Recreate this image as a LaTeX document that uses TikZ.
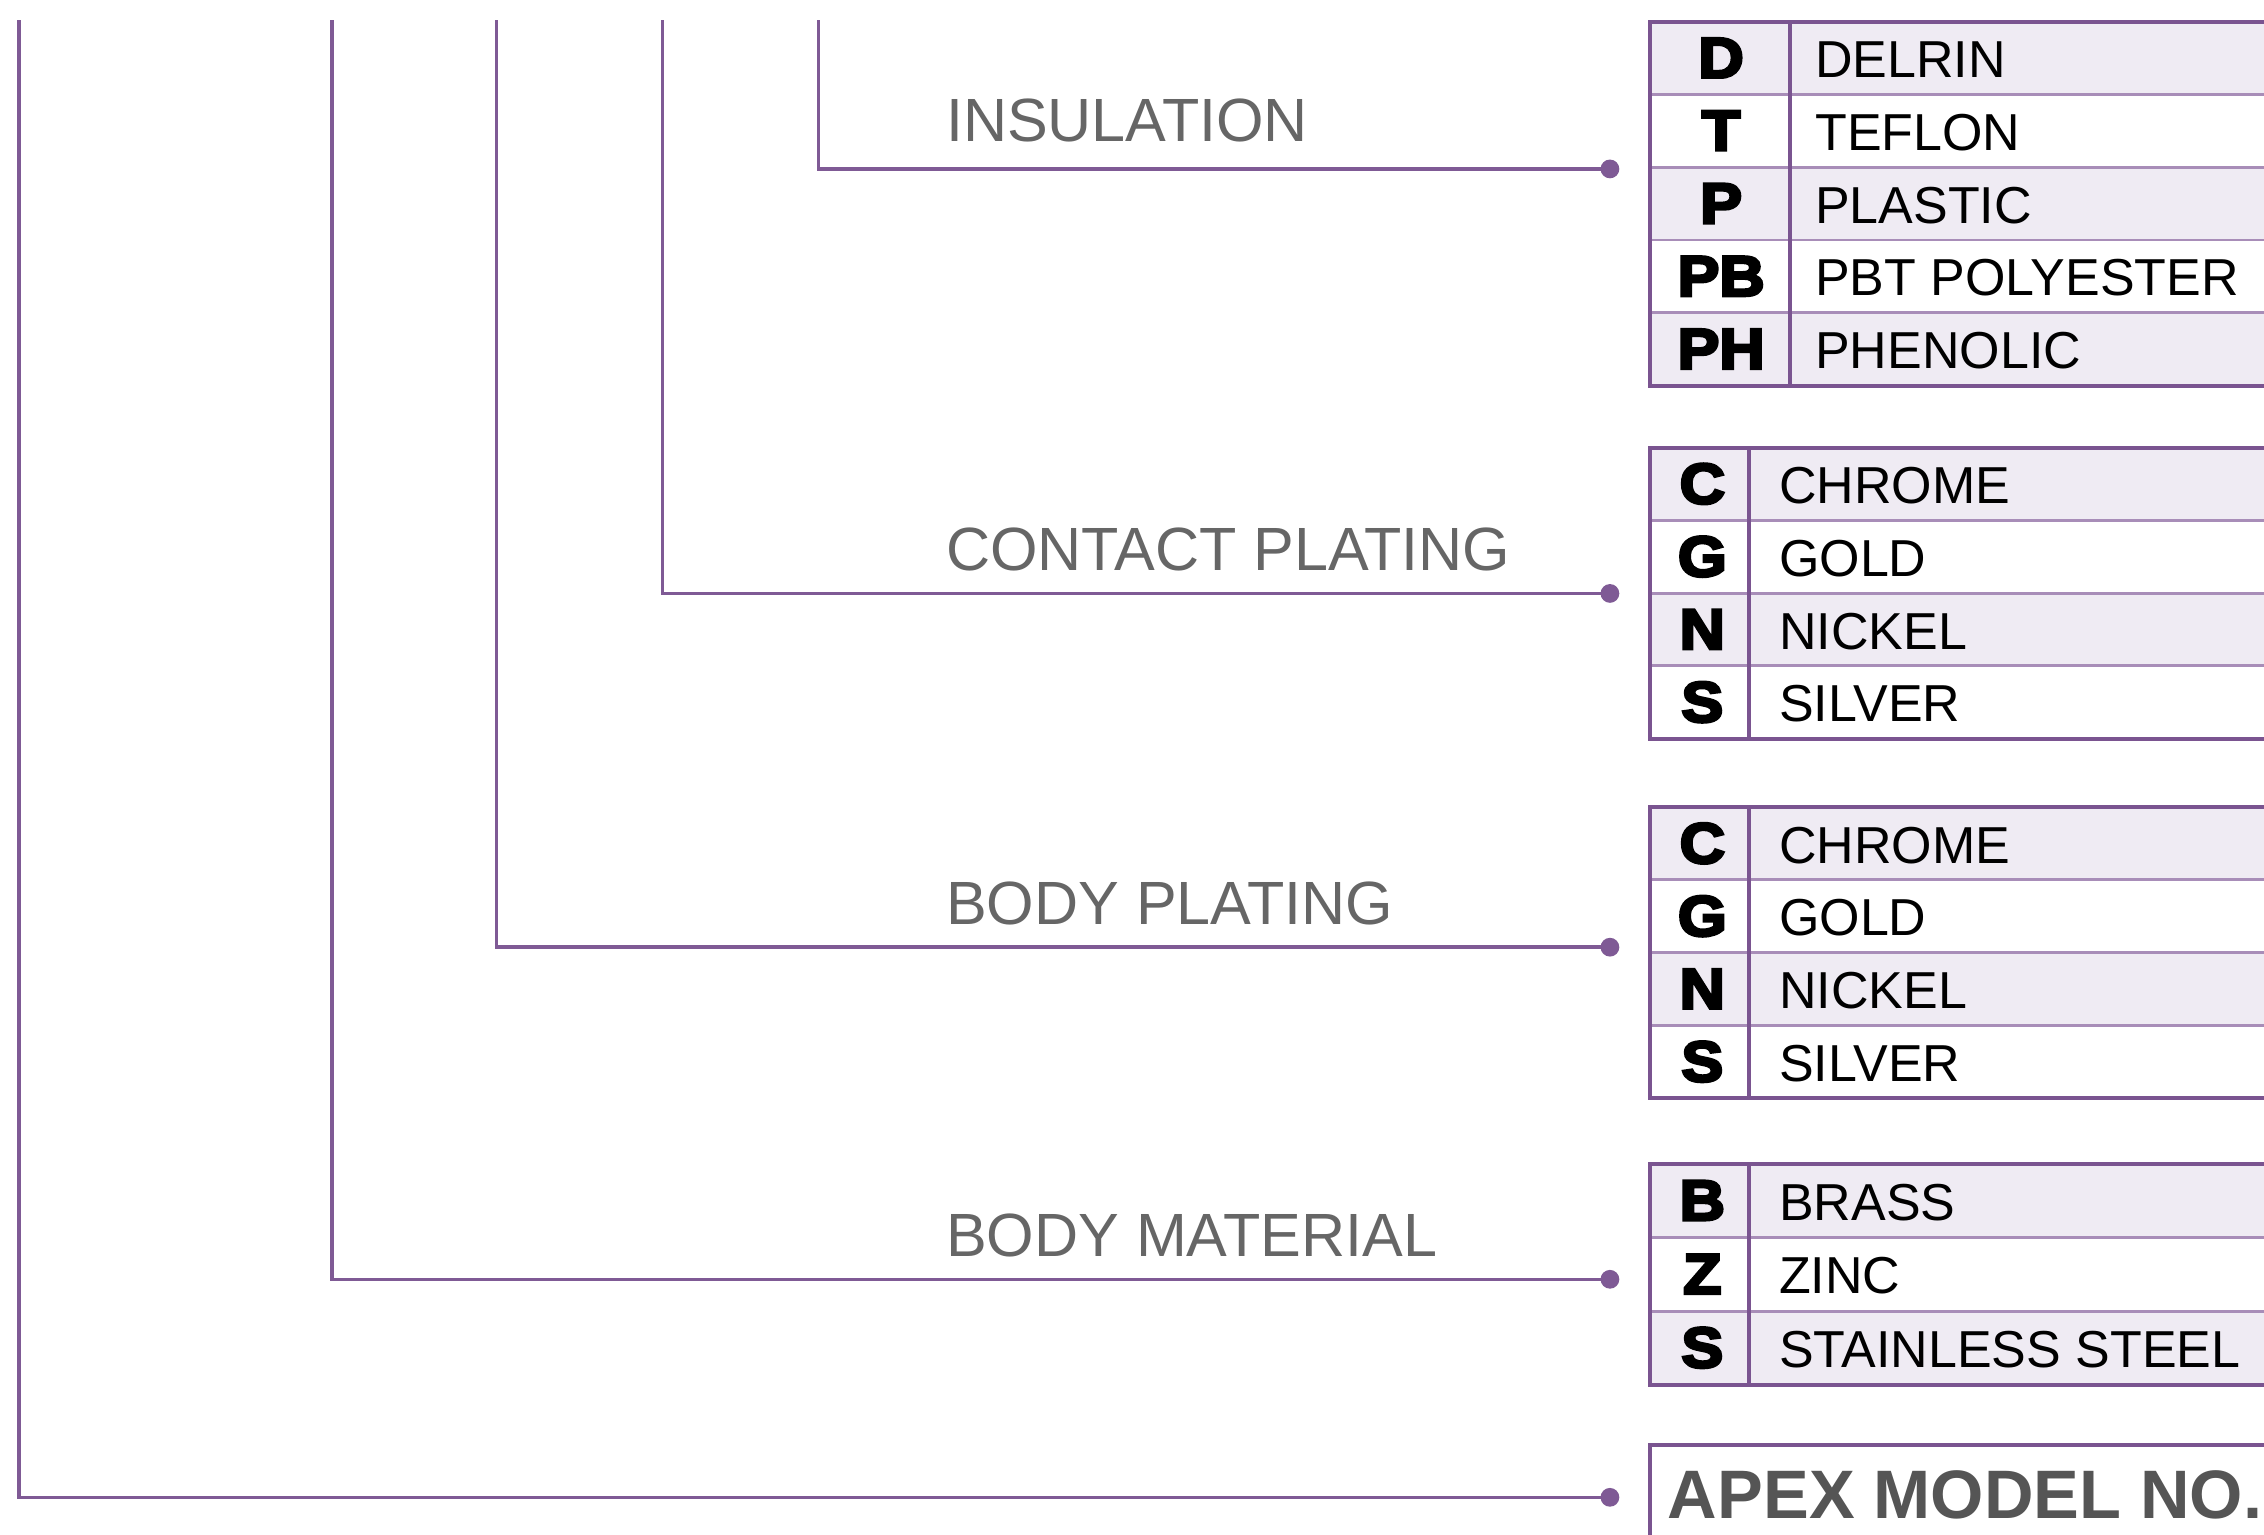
\documentclass[tikz,border=0pt]{standalone}
\usepackage{fontspec}
\setmainfont{Liberation Sans}
\newfontfamily\codefont[FakeBold=5,FakeStretch=1.1]{Liberation Sans Bold}
\definecolor{lineP}{HTML}{7F5A95}
\definecolor{borderP}{HTML}{7A5490}
\definecolor{rowP}{HTML}{A88DB8}
\definecolor{fillP}{HTML}{EFEBF3}
\definecolor{lblG}{HTML}{666666}
\definecolor{apexG}{HTML}{555555}
\tikzset{
  conn/.style={draw=lineP, line width=2.4pt},
  dotnode/.style={circle, fill=lineP, inner sep=0pt, minimum size=13pt},
  lbl/.style={anchor=base west, inner sep=0pt, text=lblG, font=\fontsize{42.3}{48}\selectfont},
  codetxt/.style={anchor=base, inner sep=0pt, text=black, font=\codefont\fontsize{39.5}{44}\selectfont},
  itemtxt/.style={anchor=base west, inner sep=0pt, text=black, font=\fontsize{36}{42}\selectfont},
  tborder/.style={draw=borderP, line width=2.8pt},
  rowsep/.style={draw=rowP, line width=2pt},
}
\newcommand{\codetable}[6]{% #1 top, #2 divider x, #3 code center x, #4 text x, #5 rows, #6 list
  \foreach [count=\i] \cc/\tt in {#6} {
    \pgfmathsetmacro{\yt}{#1+(\i-1)*\rowh}
    \pgfmathsetmacro{\yb}{#1+\i*\rowh}
    \pgfmathsetmacro{\ybase}{#1+(\i-1)*\rowh+\rowh/2+13.5}
    \pgfmathparse{mod(\i,2)==1 ? "fillP" : "white"}
    \fill[\pgfmathresult] (1143,\yt) rectangle (1600,\yb);
    \node[codetxt] (c\i) at (#3,\ybase) {\cc};
    \node[itemtxt] (t\i) at (#4,\ybase) {\tt};
  }
  \foreach \i in {1,...,#5} {
    \ifnum\i<#5\relax
      \pgfmathsetmacro{\yb}{#1+\i*\rowh}
      \draw[rowsep] (1143,\yb) -- (1600,\yb);
    \fi
  }
  \pgfmathsetmacro{\ybot}{#1+#5*\rowh}
  \draw[tborder] (#2,#1) -- (#2,\ybot);
  \draw[tborder] (1600,#1) -- (1143,#1) -- (1143,\ybot) -- (1600,\ybot);
}
\begin{document}
\begin{tikzpicture}[x=1pt, y=-1pt]
\useasboundingbox (0,0) rectangle (1568,1063);
\clip (0,0) rectangle (1568,1063);
\def\rowh{50.4}
% tables
\codetable{15}{1240}{1192}{1257}{5}{D/DELRIN, T/TEFLON, P/PLASTIC, PB/PBT POLYESTER, PH/PHENOLIC}
\codetable{310}{1211}{1179}{1232}{4}{C/CHROME, G/GOLD, N/NICKEL, S/SILVER}
\codetable{559}{1211}{1179}{1232}{4}{C/CHROME, G/GOLD, N/NICKEL, S/SILVER}
\def\rowh{51}
\codetable{806}{1211}{1179}{1232}{3}{B/BRASS, Z/ZINC, S/STAINLESS STEEL}
% apex box
\fill[white] (1143,1001) rectangle (1600,1100);
\draw[tborder] (1600,1001) -- (1143,1001) -- (1143,1100);
\node[anchor=base west, inner sep=0pt, text=apexG, font=\bfseries\fontsize{47.5}{52}\selectfont] (apextxt) at (1155,1052) {APEX MODEL NO.};
% start points
\coordinate (s1) at (567,14);
\coordinate (s2) at (459,14);
\coordinate (s3) at (344,14);
\coordinate (s4) at (230,14);
\coordinate (s5) at (13,14);
% dots
\node[dotnode] (d1) at (1115,117) {};
\node[dotnode] (d2) at (1115,411) {};
\node[dotnode] (d3) at (1115,656) {};
\node[dotnode] (d4) at (1115,886) {};
\node[dotnode] (d5) at (1115,1037) {};
% connectors
\draw[conn] (s1) |- (d1.center);
\draw[conn] (s2) |- (d2.center);
\draw[conn] (s3) |- (d3.center);
\draw[conn] (s4) |- (d4.center);
\draw[conn] (s5) |- (d5.center);
% labels
\node[lbl] (l1) at (655,98) {INSULATION};
\node[lbl] (l2) at (655,395) {CONTACT PLATING};
\node[lbl] (l3) at (655,640) {BODY PLATING};
\node[lbl] (l4) at (655,870) {BODY MATERIAL};
\end{tikzpicture}
\end{document}
